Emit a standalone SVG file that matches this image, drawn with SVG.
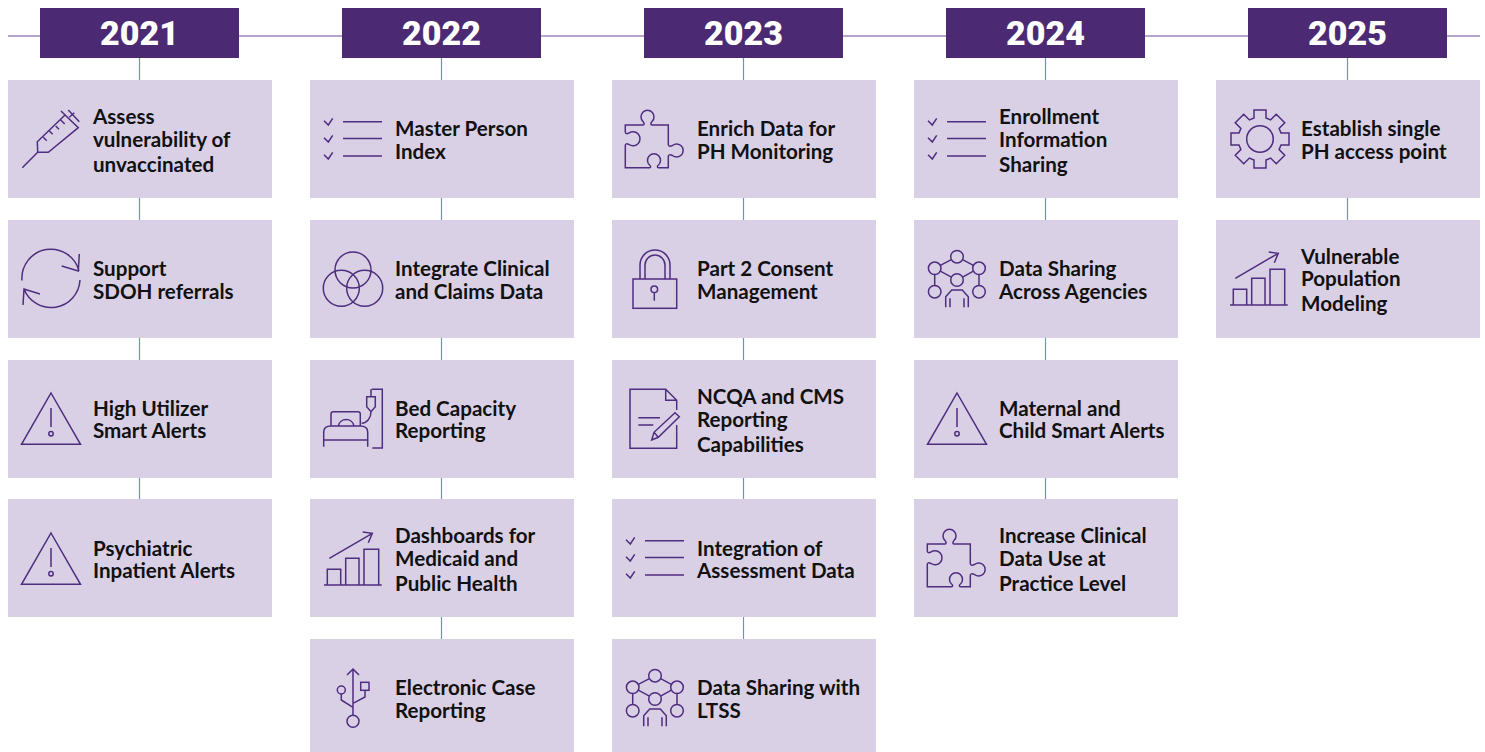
<svg xmlns="http://www.w3.org/2000/svg" width="1485" height="752" viewBox="0 0 1485 752">
<style>
.card{fill:#d9d0e6}
.hdr{fill:#4b2a73}
.yr{font-family:"Roboto","Liberation Sans",sans-serif;font-weight:900;font-size:34px;fill:#fff;text-anchor:middle}
.t{font-family:"Lato","Liberation Sans",sans-serif;font-weight:700;font-size:20.6px;fill:#111}
.i{fill:none;stroke:#4f2d7f;stroke-width:1.5;stroke-linecap:butt;stroke-linejoin:miter}
.tl{stroke:#9f86bd;stroke-width:1.4;fill:none}
.v{stroke:#6f8fc6;stroke-width:1.2;fill:none}
</style>
<defs>
<g id="syringe" class="i"><path d="M14.300 87.700L29.700 72.300M29.700 72.300L29.300 61.700L57 35L70.300 47.700L40.300 72.300ZM53 31L70.300 47.700M60.300 30L71.300 41.700M61.300 37.300L66.300 32.700M35.300 57.300L38.700 60.700M41.300 51L44.700 54.300M47.700 46L51 49.300M52.700 40L56.700 44"/></g>
<g id="refresh" class="i"><path d="M14 59.500A29 29 0 0 1 71 50M72 59A29 29 0 0 1 16 68M71.300 33L70.300 50L53.700 45M15 84L16 68L32 73"/></g>
<g id="alert" class="i"><path d="M43 33L72.500 84.300H13.500ZM43 48V67"/><circle cx="43" cy="73.700" r="2.200"/></g>
<g id="check" class="i"><path d="M33 41.700H72M33 58.500H72M33 76H72M14 40.700L18.300 45L22.700 38.300M14 57.700L18.300 62L22.700 55.300M14 74.700L18.300 79L22.700 72.300"/></g>
<g id="venn" class="i"><circle cx="43" cy="50" r="18"/><circle cx="31.300" cy="68.300" r="18"/><circle cx="54.700" cy="68.300" r="18"/></g>
<g id="bed" class="i"><path d="M61.700 29.300H72.300V88H62.300M61 29.300V36.700M56.700 36.700H65.300V46.700L61 51.700L56.700 46.700ZM61 51.700C61 58 57 63 51.700 63.300M28.300 66A8 8 0 0 1 44 66M21 66V54Q21 51.700 23.300 51.700H48Q50.300 51.700 50.300 54V66M13.700 86.700V72Q13.700 66 21 66H50.300Q57.700 66 57.700 72V86.700M13.700 80H57.700"/></g>
<g id="chart" class="i"><path d="M14 86H71.700M17.300 86V70.300H30.700V86M35.700 86V59.300H49V86M54 86V50.300H68.700V86M19.300 59.300L62.300 34.300M52.700 33L62.300 34.300L58.300 43.700"/></g>
<g id="usb" class="i"><path d="M43 30V76.300M37 36L43 30L49 36M31.300 55V61L43 68.300M55 51.300V58L43 64.300"/><circle cx="43" cy="82.300" r="6"/><circle cx="31.300" cy="51" r="4"/><rect x="50.700" y="43.300" width="8.300" height="8"/></g>
<g id="puzzle" class="i"><path d="M13.300 45H31C32.500 45 32.500 43 31 41.500A6.500 6.500 0 1 1 40 41.500C38.500 43 38.500 45 40 45H56.300V64.500C56.300 66.500 58 66.500 60.500 65.500A6.500 6.500 0 1 1 60.500 75.500C58 74.500 56.300 74.500 56.300 76.500V87.700H46.500C45 87.700 45 86 46.500 85A6.500 6.500 0 1 0 37.500 85C39 86 39 87.700 37.500 87.700H13.300V65.500C13.300 63.500 15 63.500 17 64.500A7 7 0 1 0 17 53C15 54 13.300 54 13.300 52Z"/></g>
<g id="lock" class="i"><rect x="21" y="59" width="43.700" height="29.300"/><path d="M28 59V45A15 15 0 0 1 58 45V59M33 59V45A10 10 0 0 1 53 45V59M42.300 72.600V80.700"/><circle cx="42.300" cy="69.300" r="3.300"/></g>
<g id="doc" class="i"><path d="M64.700 50V40.300L53.700 29.300H18V88.300H64.700V65M53.700 29.300V40.300H64.700M26.300 57.700H48M26.300 65H41.300M63 52.700L67.300 56.700L46.300 77.300L39.700 80L42 72.300ZM42 72.300L46.300 77.300"/></g>
<g id="net" class="i"><circle cx="43" cy="36.700" r="6.300"/><circle cx="20.700" cy="48.300" r="6.300"/><circle cx="65" cy="48.300" r="6.300"/><circle cx="43" cy="60" r="6.300"/><circle cx="20.700" cy="71.700" r="6.300"/><circle cx="65" cy="71.700" r="6.300"/><path d="M37.400 39.600L26.300 45.400M48.600 39.600L59.400 45.400M26.300 51.200L37.400 57.100M59.400 51.200L48.600 57.100M20.700 54.600V65.400M65 54.600V65.400M31.700 87.300V76.700L37.700 70H48.300L54.300 76.700V87.300M36 78.300V87.300M50 78.300V87.300"/></g>
<g id="gear" class="i"><circle cx="44" cy="59" r="13.300"/><path transform="translate(44 59)" d="M-6 -21V-29H6V-21L10.600 -19.100L16.260 -24.750L24.750 -16.260L19.090 -10.600L21 -6H29V6H21L19.090 10.600L24.750 16.260L16.260 24.750L10.600 19.090L6 21V29H-6V21L-10.600 19.090L-16.260 24.750L-24.750 16.260L-19.090 10.600L-21 6H-29V-6H-21L-19.090 -10.600L-24.750 -16.260L-16.260 -24.750L-10.600 -19.090Z"/></g>
</defs>
<g id="connectors">
<path class="tl" d="M8 36H1480"/>
<path class="v" d="M139.500 58V80M139.500 198V220M139.500 338V360M139.500 478V499"/>
<path class="v" d="M441.500 58V80M441.500 198V220M441.500 338V360M441.500 478V499M441.500 617V639"/>
<path class="v" d="M743.500 58V80M743.500 198V220M743.500 338V360M743.500 478V499M743.500 617V639"/>
<path class="v" d="M1045.500 58V80M1045.500 198V220M1045.500 338V360M1045.500 478V499"/>
<path class="v" d="M1347.500 58V80M1347.500 198V220"/>
</g>
<g id="y2021"><rect class="hdr" x="40" y="8" width="199" height="50"/><text class="yr" x="139.500" y="45">2021</text></g>
<g id="y2022"><rect class="hdr" x="342" y="8" width="199" height="50"/><text class="yr" x="441.500" y="45">2022</text></g>
<g id="y2023"><rect class="hdr" x="644" y="8" width="199" height="50"/><text class="yr" x="743.500" y="45">2023</text></g>
<g id="y2024"><rect class="hdr" x="946" y="8" width="199" height="50"/><text class="yr" x="1045.500" y="45">2024</text></g>
<g id="y2025"><rect class="hdr" x="1248" y="8" width="199" height="50"/><text class="yr" x="1347.500" y="45">2025</text></g>

<g id="n2021-1"><rect class="card" x="8" y="80" width="264" height="118"/><use href="#syringe" x="8" y="80"/><text class="t" x="93" y="124">Assess</text><text class="t" x="93" y="147">vulnerability of</text><text class="t" x="93" y="172">unvaccinated</text></g>
<g id="n2021-2"><rect class="card" x="8" y="220" width="264" height="118"/><use href="#refresh" x="8" y="221"/><text class="t" x="93" y="276">Support</text><text class="t" x="93" y="299">SDOH referrals</text></g>
<g id="n2021-3"><rect class="card" x="8" y="360" width="264" height="118"/><use href="#alert" x="8" y="360"/><text class="t" x="93" y="416">High Utilizer</text><text class="t" x="93" y="438">Smart Alerts</text></g>
<g id="n2021-4"><rect class="card" x="8" y="499" width="264" height="118"/><use href="#alert" x="8" y="500"/><text class="t" x="93" y="556">Psychiatric</text><text class="t" x="93" y="578">Inpatient Alerts</text></g>

<g id="n2022-1"><rect class="card" x="310" y="80" width="264" height="118"/><use href="#check" x="310" y="80"/><text class="t" x="395" y="136">Master Person</text><text class="t" x="395" y="159">Index</text></g>
<g id="n2022-2"><rect class="card" x="310" y="220" width="264" height="118"/><use href="#venn" x="310" y="220"/><text class="t" x="395" y="276">Integrate Clinical</text><text class="t" x="395" y="299">and Claims Data</text></g>
<g id="n2022-3"><rect class="card" x="310" y="360" width="264" height="118"/><use href="#bed" x="310" y="360"/><text class="t" x="395" y="416">Bed Capacity</text><text class="t" x="395" y="438">Reporting</text></g>
<g id="n2022-4"><rect class="card" x="310" y="499" width="264" height="118"/><use href="#chart" x="310" y="499"/><text class="t" x="395" y="543">Dashboards for</text><text class="t" x="395" y="566">Medicaid and</text><text class="t" x="395" y="591">Public Health</text></g>
<g id="n2022-5"><rect class="card" x="310" y="639" width="264" height="113"/><use href="#usb" x="310" y="639"/><text class="t" x="395" y="695">Electronic Case</text><text class="t" x="395" y="718">Reporting</text></g>

<g id="n2023-1"><rect class="card" x="612" y="80" width="264" height="118"/><use href="#puzzle" x="612" y="80"/><text class="t" x="697" y="136">Enrich Data for</text><text class="t" x="697" y="159">PH Monitoring</text></g>
<g id="n2023-2"><rect class="card" x="612" y="220" width="264" height="118"/><use href="#lock" x="612" y="220"/><text class="t" x="697" y="276">Part 2 Consent</text><text class="t" x="697" y="299">Management</text></g>
<g id="n2023-3"><rect class="card" x="612" y="360" width="264" height="118"/><use href="#doc" x="612" y="360"/><text class="t" x="697" y="404">NCQA and CMS</text><text class="t" x="697" y="427">Reporting</text><text class="t" x="697" y="452">Capabilities</text></g>
<g id="n2023-4"><rect class="card" x="612" y="499" width="264" height="118"/><use href="#check" x="612" y="499"/><text class="t" x="697" y="556">Integration of</text><text class="t" x="697" y="578">Assessment Data</text></g>
<g id="n2023-5"><rect class="card" x="612" y="639" width="264" height="113"/><use href="#net" x="612" y="639"/><text class="t" x="697" y="695">Data Sharing with</text><text class="t" x="697" y="718">LTSS</text></g>

<g id="n2024-1"><rect class="card" x="914" y="80" width="264" height="118"/><use href="#check" x="914" y="80"/><text class="t" x="999" y="124">Enrollment</text><text class="t" x="999" y="147">Information</text><text class="t" x="999" y="172">Sharing</text></g>
<g id="n2024-2"><rect class="card" x="914" y="220" width="264" height="118"/><use href="#net" x="914" y="220"/><text class="t" x="999" y="276">Data Sharing</text><text class="t" x="999" y="299">Across Agencies</text></g>
<g id="n2024-3"><rect class="card" x="914" y="360" width="264" height="118"/><use href="#alert" x="914" y="360"/><text class="t" x="999" y="416">Maternal and</text><text class="t" x="999" y="438">Child Smart Alerts</text></g>
<g id="n2024-4"><rect class="card" x="914" y="499" width="264" height="118"/><use href="#puzzle" x="914" y="499"/><text class="t" x="999" y="543">Increase Clinical</text><text class="t" x="999" y="566">Data Use at</text><text class="t" x="999" y="591">Practice Level</text></g>

<g id="n2025-1"><rect class="card" x="1216" y="80" width="264" height="118"/><use href="#gear" x="1216" y="80"/><text class="t" x="1301" y="136">Establish single</text><text class="t" x="1301" y="159">PH access point</text></g>
<g id="n2025-2"><rect class="card" x="1216" y="220" width="264" height="118"/><use href="#chart" x="1216" y="219"/><text class="t" x="1301" y="264">Vulnerable</text><text class="t" x="1301" y="286">Population</text><text class="t" x="1301" y="311">Modeling</text></g>
</svg>
